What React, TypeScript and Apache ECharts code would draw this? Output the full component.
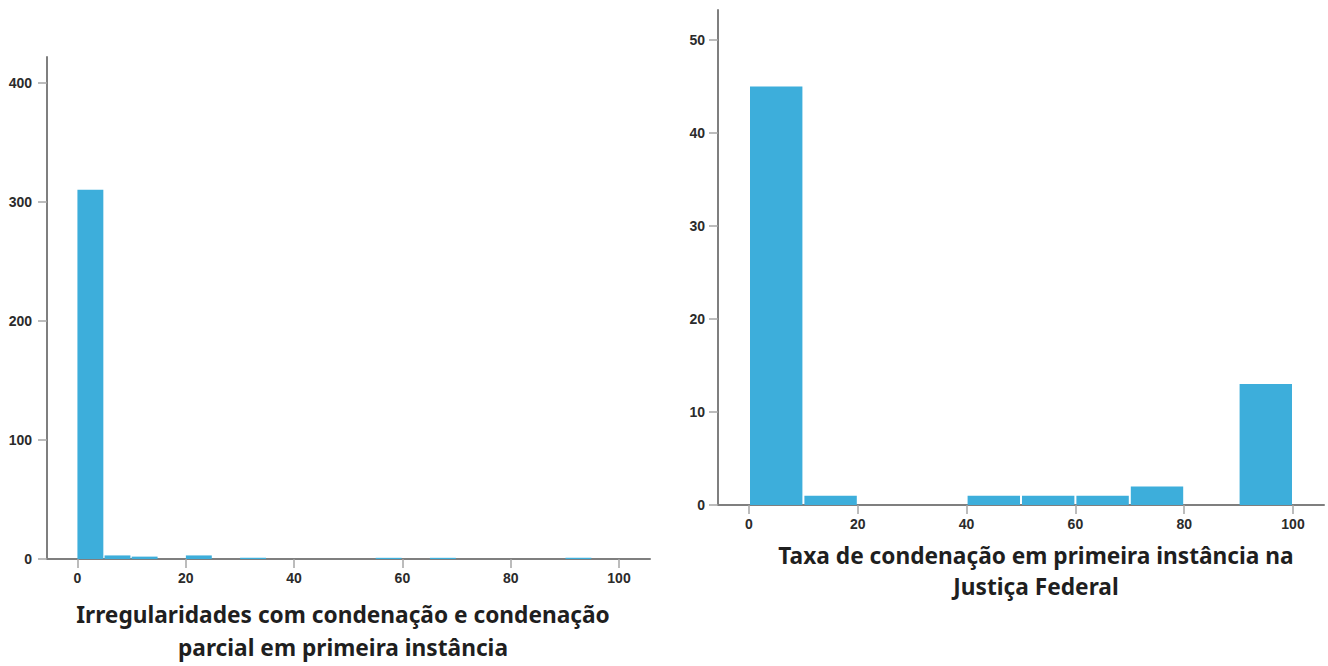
import React, { useEffect, useRef } from "react";
import * as echarts from "echarts";

// Left histogram: bins of width 5 (0..100)
const leftBinStarts = [0, 5, 10, 15, 20, 25, 30, 35, 40, 45, 50, 55, 60, 65, 70, 75, 80, 85, 90, 95];
const leftCounts = [310, 3, 2, 0, 3, 0, 1, 0, 0, 0, 0, 1, 0, 1, 0, 0, 0, 0, 1, 0];
const leftBinWidth = 5;
const leftYTicks = [0, 100, 200, 300, 400];
const leftTitle = "Irregularidades com condenação e condenação\nparcial em primeira instância";

// Right histogram: bins of width 10 (0..100)
const rightBinStarts = [0, 10, 20, 30, 40, 50, 60, 70, 80, 90];
const rightCounts = [45, 1, 0, 0, 1, 1, 1, 2, 0, 13];
const rightBinWidth = 10;
const rightYTicks = [0, 10, 20, 30, 40, 50];
const rightTitle = "Taxa de condenação em primeira instância na\nJustiça Federal";

const xTicks = [0, 20, 40, 60, 80, 100];

const BAR = "#3daedb";
const AXIS = "#7f7f7f";
const TICK = "#a6a6a6";
const LABEL = "#2b2b2b";
const TICK_FONT = "'Liberation Sans', Arial, sans-serif";
const TITLE_FONT = "'Noto Sans', sans-serif";

function histData(starts: number[], counts: number[], w: number) {
  return starts.map((s, i) => [s, s + w, counts[i]]);
}

function makeRender(gap: number) {
  return (params: any, api: any) => {
    const x0 = api.value(0);
    const x1 = api.value(1);
    const c = api.value(2);
    if (!c) return null;
    const p0 = api.coord([x0, c]);
    const p1 = api.coord([x1, 0]);
    return {
      type: "rect",
      shape: {
        x: p0[0] + gap / 2,
        y: p0[1],
        width: p1[0] - p0[0] - gap,
        height: p1[1] - p0[1],
      },
      style: { fill: BAR },
    };
  };
}

export default function App() {
  const ref = useRef<HTMLDivElement>(null);
  useEffect(() => {
    if (!ref.current) return;
    const chart = echarts.init(ref.current, undefined, { renderer: "svg" });

    const hiddenAxis = (type: any, extra: any = {}) => ({
      type,
      show: false,
      ...extra,
    });

    const lineOnlyAxis = (gridIndex: number, min: number, max: number) => ({
      type: "value",
      gridIndex,
      min,
      max,
      axisLine: { show: true, onZero: false, lineStyle: { color: AXIS, width: 2 } },
      axisTick: { show: false },
      axisLabel: { show: false },
      splitLine: { show: false },
    });

    const tickAxis = (gridIndex: number, ticks: number[], margin: number) => ({
      type: "value",
      gridIndex,
      min: ticks[0],
      max: ticks[ticks.length - 1],
      interval: ticks[1] - ticks[0],
      axisLine: { show: false, onZero: false },
      axisTick: { show: true, length: 9, lineStyle: { color: TICK, width: 1.5 } },
      axisLabel: {
        show: true,
        margin,
        color: LABEL,
        fontFamily: TICK_FONT,
        fontWeight: "bold",
        fontSize: 14,
      },
      splitLine: { show: false },
    });

    // Right-chart y scale
    const rightPx = 9.3;
    const rightYMax = 495 / rightPx;

    chart.setOption({
      animation: false,
      grid: [
        // left chart
        { left: 47, top: 57, width: 603, height: 502 },
        { left: 77.5, top: 57, width: 541.5, height: 502 },
        { left: 47, top: 559 - 476.4, width: 603, height: 476.4 },
        // right chart
        { left: 718, top: 10, width: 606, height: 495 },
        { left: 749, top: 10, width: 544, height: 495 },
        { left: 718, top: 505 - 50 * rightPx, width: 606, height: 50 * rightPx },
      ],
      xAxis: [
        lineOnlyAxis(0, -5.5, 105.7),
        tickAxis(1, xTicks, 12),
        hiddenAxis("value", { gridIndex: 2, min: 0, max: 1 }),
        lineOnlyAxis(3, -5.7, 105.7),
        tickAxis(4, xTicks, 12),
        hiddenAxis("value", { gridIndex: 5, min: 0, max: 1 }),
      ],
      yAxis: [
        lineOnlyAxis(0, 0, 421.5),
        hiddenAxis("value", { gridIndex: 1, min: 0, max: 1 }),
        tickAxis(2, leftYTicks, 15),
        lineOnlyAxis(3, 0, rightYMax),
        hiddenAxis("value", { gridIndex: 4, min: 0, max: 1 }),
        tickAxis(5, rightYTicks, 13),
      ],
      series: [
        {
          type: "custom",
          xAxisIndex: 0,
          yAxisIndex: 0,
          renderItem: makeRender(1.2),
          data: histData(leftBinStarts, leftCounts, leftBinWidth),
          encode: { x: [0, 1], y: 2 },
          z: 1,
        },
        {
          type: "custom",
          xAxisIndex: 3,
          yAxisIndex: 3,
          renderItem: makeRender(2),
          data: histData(rightBinStarts, rightCounts, rightBinWidth),
          encode: { x: [0, 1], y: 2 },
          z: 1,
        },
      ],
      graphic: [
        {
          type: "text",
          x: 343,
          y: 598,
          style: {
            text: leftTitle,
            fill: "#1f1f1f",
            font: `bold 22.7px ${TITLE_FONT}`,
            align: "center",
            verticalAlign: "top",
            lineHeight: 33,
          },
        },
        {
          type: "text",
          x: 1036,
          y: 540,
          style: {
            text: rightTitle,
            fill: "#1f1f1f",
            font: `bold 22.7px ${TITLE_FONT}`,
            align: "center",
            verticalAlign: "top",
            lineHeight: 31,
          },
        },
      ],
    });
    return () => chart.dispose();
  }, []);
  return (
    <div
      ref={ref}
      style={{ position: "absolute", left: 0, top: 0, width: 1328, height: 666, background: "#fff" }}
    />
  );
}
